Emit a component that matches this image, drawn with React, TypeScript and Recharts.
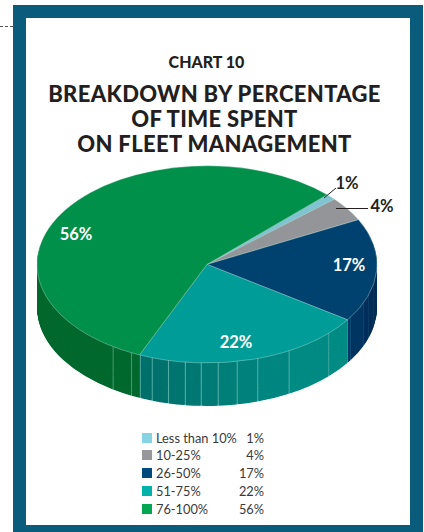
import { PieChart, Pie, Cell } from 'recharts';

const categories = ['Less than 10%', '10-25%', '26-50%', '51-75%', '76-100%'];
const shares = [1, 4, 17, 22, 56];
const faceColors = ['#7fc4d0', '#939598', '#00426f', '#009d98', '#00904a'];
const keyColors = ['#86d4e3', '#97989b', '#004b7c', '#00b3aa', '#00a651'];

// side wall panels, widths in % of the circle going clockwise from the 1% slice
const wallWidths = [5, 10.7, 1.8, 1.4, 2.6, 0.5, 2.8, 4.7, 3.2, 2.0, 1.8, 1.6, 1.5, 1.6, 1.6, 1.2, 0.9, 2.0, 53.1];
const wallColors = [
  '#7d7e80', '#002f55', '#002f58', '#00305c', '#003763', '#003a66',
  '#008c85', '#008b84', '#008680', '#00827c', '#007f79', '#007b76', '#007873', '#007570', '#00726d', '#00706b',
  '#00692e', '#00692e', '#00692e',
];

const SQUASH = 0.58;
const CX = 207;
const CY = 180;
const R = 170;
const DEPTH = 74;
const SEAM = 0.09;

// a hairline panel after every wall panel gives the light seams
const wallData = wallWidths.flatMap((w, i) => [
  { value: w - SEAM, color: wallColors[i] },
  { value: SEAM, color: i < 5 ? '#27608a' : i < 16 ? '#5fb5ae' : '#5aa57c' },
]);
const faceData = categories.map((name, i) => ({ name, value: shares[i] }));
const layers = Array.from({ length: DEPTH }, (_, i) => DEPTH - i);

const sliceLabels = [
  { text: '1%', x: 347, y: 183, color: '#231f20' },
  { text: '4%', x: 382, y: 206, color: '#231f20' },
  { text: '17%', x: 349, y: 265, color: '#fff' },
  { text: '22%', x: 236, y: 342, color: '#fff' },
  { text: '56%', x: 76, y: 234, color: '#fff' },
];
const titleLines = ['BREAKDOWN BY PERCENTAGE', 'OF TIME SPENT', 'ON FLEET MANAGEMENT'];
const titleFont = 'Lato, "Open Sans", sans-serif';

export default function App() {
  return (
    <div style={{ position: 'absolute', left: 0, top: 0, width: 424, height: 532, overflow: 'hidden', background: '#fff', fontFamily: titleFont }}>
      <div style={{ position: 'absolute', left: 0, width: 13, top: 26, borderTop: '1px dashed #555' }} />
      <div style={{ position: 'absolute', left: 13, top: 5, width: 384, height: 507, border: '13px solid #0a5c7d' }} />

      <div style={{ position: 'absolute', left: 0, width: 413, top: 51.5, textAlign: 'center', fontSize: 16, fontWeight: 900, color: '#231f20', lineHeight: '20px' }}>
        CHART 10
      </div>
      {titleLines.map((line, i) => (
        <div key={line} style={{ position: 'absolute', left: 0, width: 429, top: 81 + i * 25, textAlign: 'center', fontSize: 22, fontWeight: 900, letterSpacing: 0.35, color: '#231f20', lineHeight: '25px', whiteSpace: 'nowrap' }}>
          {line}
        </div>
      ))}

      <div style={{ position: 'absolute', left: 0, top: 264 - CY * SQUASH, transform: `scaleY(${SQUASH})`, transformOrigin: 'top left' }}>
        <PieChart width={424} height={CY + R + DEPTH + 6} margin={{ top: 0, right: 0, bottom: 0, left: 0 }}>
          {layers.map((d) => (
            <Pie
              key={d}
              data={wallData}
              dataKey="value"
              cx={CX}
              cy={CY + d}
              innerRadius={0}
              outerRadius={R}
              startAngle={45}
              endAngle={-315}
              stroke="none"
              isAnimationActive={false}
            >
              {wallData.map((w, i) => (
                <Cell key={i} fill={w.color} />
              ))}
            </Pie>
          ))}
          <Pie
            data={faceData}
            dataKey="value"
            nameKey="name"
            cx={CX}
            cy={CY}
            innerRadius={0}
            outerRadius={R}
            startAngle={45}
            endAngle={-315}
            stroke="#bfe0d8"
            strokeWidth={0.5}
            isAnimationActive={false}
          >
            {faceData.map((d, i) => (
              <Cell key={d.name} fill={faceColors[i]} />
            ))}
          </Pie>
        </PieChart>
      </div>

      <svg width={424} height={532} style={{ position: 'absolute', left: 0, top: 0 }}>
        <line x1={324} y1={198} x2={336} y2={188} stroke="#231f20" strokeWidth={1} />
        <line x1={336} y1={208.5} x2={368} y2={208.5} stroke="#231f20" strokeWidth={1} />
      </svg>
      {sliceLabels.map((l) => (
        <div key={l.text} style={{ position: 'absolute', left: l.x - 30, width: 60, top: l.y - 10, lineHeight: '20px', textAlign: 'center', fontSize: 16.5, fontWeight: 700, color: l.color }}>
          {l.text}
        </div>
      ))}

      {categories.map((name, i) => (
        <div key={name} style={{ position: 'absolute', left: 142, top: 429.5 + i * 17.75, width: 122, height: 17, lineHeight: '17px', fontSize: 12.8, color: '#3a3a3c', whiteSpace: 'nowrap' }}>
          <span style={{ position: 'absolute', left: 0, top: 3, width: 10, height: 10, background: keyColors[i] }} />
          <span style={{ position: 'absolute', left: 14, top: 0 }}>{name}</span>
          <span style={{ position: 'absolute', right: 0, top: 0 }}>{shares[i]}%</span>
        </div>
      ))}
    </div>
  );
}
